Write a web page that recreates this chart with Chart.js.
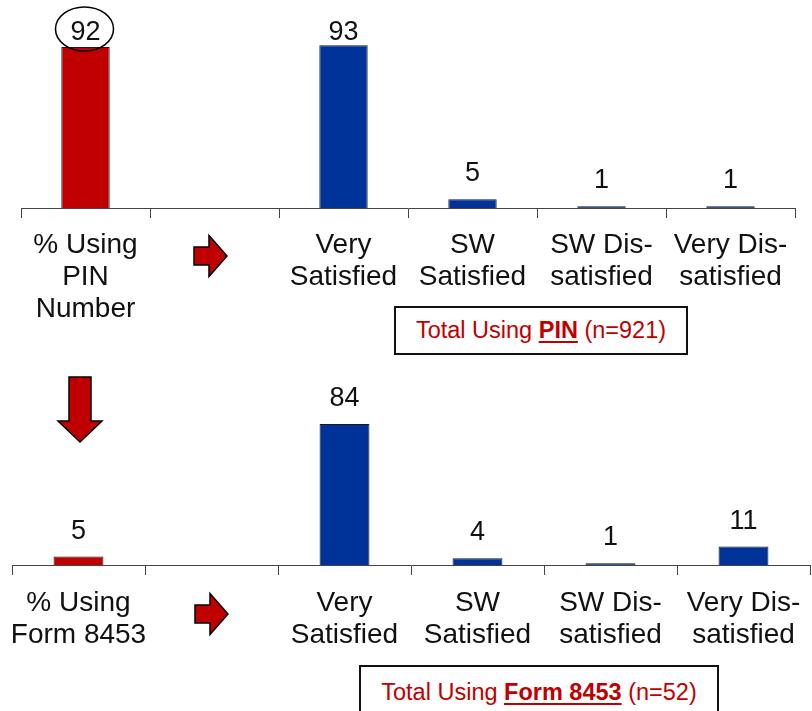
<!DOCTYPE html>
<html>
<head>
<meta charset="utf-8">
<script src="https://cdn.jsdelivr.net/npm/chart.js@4/dist/chart.umd.min.js"></script>
<style>
  html, body { margin: 0; padding: 0; background: #fff; width: 812px; height: 711px; overflow: hidden; }
  canvas { position: absolute; left: 0; }
  #c1 { top: 0; }
  #c2 { top: 360px; }
  .box { position: absolute; box-sizing: border-box; border: 2px solid #111; background: #fff;
         display: flex; align-items: center; justify-content: center;
         font-family: "Liberation Sans", Arial, sans-serif; font-size: 23.5px; color: #C00000; white-space: nowrap; }
  .box b { text-decoration: underline; text-decoration-thickness: 2px; text-underline-offset: 3px; }
  #box1 { left: 394px; top: 306px; width: 294px; height: 49px; }
  #box2 { left: 359px; top: 665px; width: 360px; height: 54px; }
</style>
</head>
<body>
<canvas id="c1" width="812" height="360"></canvas>
<canvas id="c2" width="812" height="351"></canvas>
<div class="box" id="box1"><span>Total Using <b>PIN</b> (n=921)</span></div>
<div class="box" id="box2"><span>Total Using <b>Form 8453</b> (n=52)</span></div>
<script>
// ---- data ----
const pinCategories = [["% Using", "PIN", "Number"], "", ["Very", "Satisfied"], ["SW", "Satisfied"], ["SW Dis-", "satisfied"], ["Very Dis-", "satisfied"]];
const formCategories = [["% Using", "Form 8453"], "", ["Very", "Satisfied"], ["SW", "Satisfied"], ["SW Dis-", "satisfied"], ["Very Dis-", "satisfied"]];
const pinValues = [92, null, 93, 5, 1, 1];
const formValues = [5, null, 84, 4, 1, 11];

const RED = "#C00000";
const BLUE = "#003399";
const FONT = "'Liberation Sans', Arial, sans-serif";
const barColors = [RED, RED, BLUE, BLUE, BLUE, BLUE];

function drawArrow(ctx, pts) {
  ctx.save();
  ctx.beginPath();
  pts.forEach((p, i) => i ? ctx.lineTo(p[0], p[1]) : ctx.moveTo(p[0], p[1]));
  ctx.closePath();
  ctx.fillStyle = RED;
  ctx.fill();
  ctx.lineWidth = 1.5;
  ctx.strokeStyle = "#000";
  ctx.lineJoin = "miter";
  ctx.stroke();
  ctx.restore();
}
function rightArrow(ctx, x, cy) {
  drawArrow(ctx, [[x, cy - 9], [x + 15, cy - 9], [x + 15, cy - 20.5], [x + 33, cy], [x + 15, cy + 20.5], [x + 15, cy + 9], [x, cy + 9]]);
}
function downArrow(ctx, cx, y) {
  drawArrow(ctx, [[cx - 11, y], [cx + 11, y], [cx + 11, y + 44], [cx + 22, y + 44], [cx, y + 65], [cx - 22, y + 44], [cx - 11, y + 44]]);
}

const decorPlugin = {
  id: "decor",
  afterDatasetsDraw(chart, args, opts) {
    const ctx = chart.ctx;
    const meta = chart.getDatasetMeta(0);
    const data = chart.data.datasets[0].data;
    ctx.save();
    ctx.font = "27px " + FONT;
    ctx.fillStyle = "#111";
    ctx.textAlign = "center";
    ctx.textBaseline = "alphabetic";
    meta.data.forEach((bar, i) => {
      if (data[i] === null) return;
      const base = Math.max(bar.y - 18, chart.chartArea.top + 7);
      ctx.fillText(String(data[i]), bar.x, base);
      if (opts.circleIndex === i) {
        ctx.beginPath();
        ctx.ellipse(bar.x - 1, base - 11, 29, 22, 0, 0, Math.PI * 2);
        ctx.lineWidth = 1.5;
        ctx.strokeStyle = "#000";
        ctx.stroke();
      }
    });
    ctx.restore();
    (opts.rightArrows || []).forEach(a => rightArrow(ctx, a[0], a[1]));
    (opts.downArrows || []).forEach(a => downArrow(ctx, a[0], a[1]));
  }
};

function makeChart(id, labels, values, pad, axisHeight, tickPad, decor) {
  return new Chart(document.getElementById(id), {
    type: "bar",
    data: {
      labels: labels,
      datasets: [{
        data: values,
        backgroundColor: barColors,
        borderColor: "#1a1a1a",
        borderWidth: 1,
        borderSkipped: "bottom",
        categoryPercentage: 1,
        barPercentage: 0.375
      }]
    },
    options: {
      responsive: false,
      animation: false,
      layout: { padding: pad },
      plugins: { legend: { display: false }, tooltip: { enabled: false }, decor: decor },
      scales: {
        y: { display: false, min: 0, max: 100 },
        x: {
          afterFit: (s) => { s.height = axisHeight; s.paddingLeft = 0; s.paddingRight = 0; },
          grid: { offset: true, drawOnChartArea: false, drawTicks: true, tickLength: 10, color: "#444", lineWidth: 1 },
          border: { display: true, color: "#444", width: 1 },
          ticks: {
            autoSkip: false, maxRotation: 0, minRotation: 0, padding: tickPad,
            color: "#111",
            font: { family: FONT, size: 28, lineHeight: 32 / 28 }
          }
        }
      }
    },
    plugins: [decorPlugin]
  });
}

makeChart("c1", pinCategories, pinValues,
  { left: 21, right: 17, top: 33, bottom: 0 }, 152, 11,
  { circleIndex: 0, rightArrows: [[194, 256]] });
makeChart("c2", formCategories, formValues,
  { left: 12, right: 2, top: 37, bottom: 0 }, 146, 12,
  { circleIndex: -1, rightArrows: [[195, 254]], downArrows: [[80, 17]] });
</script>
</body>
</html>
